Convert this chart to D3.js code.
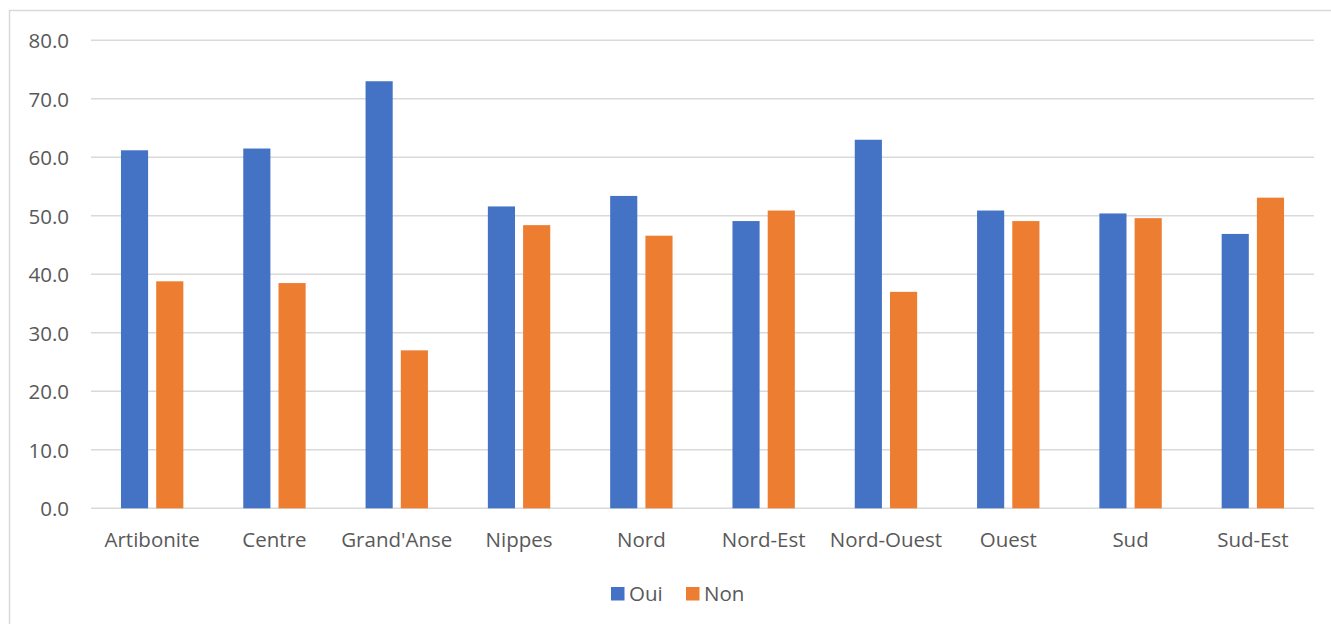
<!DOCTYPE html>
<html>
<head>
<meta charset="utf-8">
<script src="https://cdn.jsdelivr.net/npm/d3@7"></script>
<style>
  html, body { margin: 0; padding: 0; background: #fff; }
  svg { display: block; }
  text { font-family: "Open Sans", "Noto Sans", sans-serif; fill: #595959; }
</style>
</head>
<body>
<svg id="chart" width="1331" height="624"></svg>
<script>
// Départements and share (%) answering Oui / Non
const departements = ["Artibonite", "Centre", "Grand'Anse", "Nippes", "Nord", "Nord-Est", "Nord-Ouest", "Ouest", "Sud", "Sud-Est"];
const oui = [61.2, 61.5, 73.0, 51.6, 53.4, 49.1, 63.0, 50.9, 50.4, 46.9];
const non = [38.8, 38.5, 27.0, 48.4, 46.6, 50.9, 37.0, 49.1, 49.6, 53.1];
const seriesNames = ["Oui", "Non"];
const yTicks = [0, 10, 20, 30, 40, 50, 60, 70, 80];

const colors = { Oui: "#4472C4", Non: "#ED7D31" };
const fontSize = "20.5px";

const svg = d3.select("#chart");

// Chart area frame (top and left edges visible)
svg.append("path")
  .attr("d", "M9.5,624 V10.5 H1331")
  .attr("fill", "none")
  .attr("stroke", "#D9D9D9")
  .attr("stroke-width", 1.5);

const plot = { left: 91, right: 1314, top: 40.3, bottom: 508.3 };

const x = d3.scaleBand()
  .domain(departements)
  .range([plot.left, plot.right])
  .paddingInner(0.49)
  .paddingOuter(0.245);

const xSub = d3.scaleBand()
  .domain(seriesNames)
  .range([0, x.bandwidth()])
  .paddingInner(0.23);

const y = d3.scaleLinear().domain([0, 80]).range([plot.bottom, plot.top]);

// Horizontal gridlines
svg.append("g")
  .selectAll("line")
  .data(yTicks)
  .join("line")
  .attr("x1", plot.left)
  .attr("x2", plot.right)
  .attr("y1", d => y(d))
  .attr("y2", d => y(d))
  .attr("stroke", "#D9D9D9")
  .attr("stroke-width", 1.5);

// Y axis labels
const yAxis = d3.axisLeft(y).tickValues(yTicks).tickFormat(d3.format(".1f")).tickSize(0).tickPadding(22);
const gy = svg.append("g").attr("transform", `translate(${plot.left},0)`).call(yAxis);
gy.select(".domain").remove();
gy.selectAll("text")
  .style("font-size", fontSize)
  .attr("fill", "#595959")
  .attr("dy", "0.36em");

// Bars
const rows = departements.map((d, i) => ({ dep: d, Oui: oui[i], Non: non[i] }));
const groups = svg.append("g")
  .selectAll("g")
  .data(rows)
  .join("g")
  .attr("transform", d => `translate(${x(d.dep)},0)`);

groups.selectAll("rect")
  .data(d => seriesNames.map(s => ({ s, v: d[s] })))
  .join("rect")
  .attr("x", d => xSub(d.s))
  .attr("width", xSub.bandwidth())
  .attr("y", d => y(d.v))
  .attr("height", d => y(0) - y(d.v))
  .attr("fill", d => colors[d.s]);

// X axis labels
const xAxis = d3.axisBottom(x).tickSize(0).tickPadding(24);
const gx = svg.append("g").attr("transform", `translate(0,${plot.bottom})`).call(xAxis);
gx.select(".domain").remove();
gx.selectAll("text")
  .style("font-size", fontSize)
  .attr("fill", "#595959");

// Legend
const legendItems = [
  { s: "Oui", x: 611 },
  { s: "Non", x: 686 }
];
const lg = svg.append("g");
lg.selectAll("rect")
  .data(legendItems)
  .join("rect")
  .attr("x", d => d.x)
  .attr("y", 587)
  .attr("width", 13.5)
  .attr("height", 13.5)
  .attr("fill", d => colors[d.s]);
lg.selectAll("text")
  .data(legendItems)
  .join("text")
  .attr("x", d => d.x + 18)
  .attr("y", 593.5)
  .attr("dy", "0.36em")
  .style("font-size", fontSize)
  .text(d => d.s);
</script>
</body>
</html>
